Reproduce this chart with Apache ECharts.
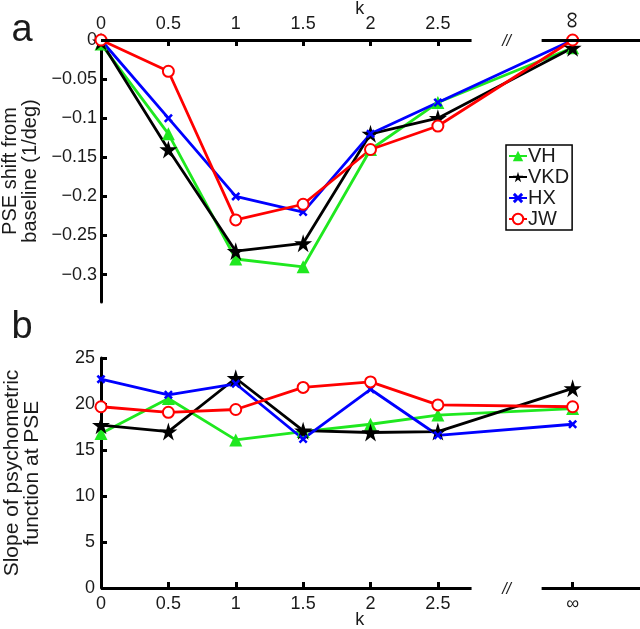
<!DOCTYPE html>
<html>
<head>
<meta charset="utf-8">
<script src="https://cdn.jsdelivr.net/npm/echarts@6/dist/echarts.min.js"></script>
<style>html,body{margin:0;padding:0;background:#fff;}#main{width:640px;height:629px;}</style>
</head>
<body>
<div id="main"></div>
<script>
// k positions; 3.5 stands for k = infinity (drawn after the axis break)
const kPositions = [0, 0.5, 1, 1.5, 2, 2.5, 3.5];
const kTickLabels = ['0', '0.5', '1', '1.5', '2', '2.5', '∞'];
const subjects = ['VH', 'VKD', 'HX', 'JW'];

// panel a: PSE shift from baseline (1/deg)
const pseVH  = [-0.005, -0.12, -0.28, -0.29, -0.14, -0.08, -0.01];
const pseVKD = [-0.002, -0.14, -0.27, -0.26, -0.12, -0.10, -0.01];
const pseHX  = [0, -0.10, -0.20, -0.22, -0.12, -0.08, 0];
const pseJW  = [0, -0.04, -0.23, -0.21, -0.14, -0.11, 0];
const pseTicks = [-0.3, -0.25, -0.2, -0.15, -0.1, -0.05, 0];

// panel b: slope of psychometric function at PSE
const slopeVH  = [16.8, 20.6, 16.1, 17.0, 17.8, 18.8, 19.5];
const slopeVKD = [17.7, 17.0, 22.8, 17.1, 16.9, 17.0, 21.7];
const slopeHX  = [22.7, 21.0, 22.2, 16.2, 21.6, 16.6, 17.8];
const slopeJW  = [19.7, 19.1, 19.4, 21.8, 22.4, 19.9, 19.7];
const slopeTicks = [0, 5, 10, 15, 20, 25];

const FONT = 'Liberation Sans';
const colors = { VH: '#1fe81f', VKD: '#000000', HX: '#0000ff', JW: '#ff0000' };
const xPath = 'path://M0,2 L2,0 L5,3 L8,0 L10,2 L7,5 L10,8 L8,10 L5,7 L2,10 L0,8 L3,5 Z';
const symbols = { VH: 'triangle', VKD: 'path://M50,0 L61,35 L98,35 L68,57 L79,92 L50,70 L21,92 L32,57 L2,35 L39,35 Z', HX: xPath, JW: 'emptyCircle' };
const symSizes = { VH: 13, VKD: 18, HX: 9, JW: 11 };
const pseData = { VH: pseVH, VKD: pseVKD, HX: pseHX, JW: pseJW };
const slopeData = { VH: slopeVH, VKD: slopeVKD, HX: slopeHX, JW: slopeJW };

function zip(xs, ys) { return xs.map((x, i) => [x, ys[i]]); }

const axisSegLine = { color: '#000', width: 3, type: 'solid' };
function breakSegments(y) {
  return [
    [{ coord: [0, y] }, { coord: [2.75, y] }],
    [{ coord: [3.27, y] }, { coord: [4, y] }]
  ];
}

function makeSeries(name, data, gi, withAxis, yBase) {
  const s = {
    name: name, type: 'line', xAxisIndex: gi, yAxisIndex: gi,
    data: zip(kPositions, data), clip: false,
    symbol: symbols[name], symbolSize: symSizes[name],
    lineStyle: { color: colors[name], width: 2.8 },
    itemStyle: { color: colors[name], borderColor: colors[name], borderWidth: name === 'JW' ? 3 : 0 },
    emphasis: { disabled: true }, animation: false
  };
  if (withAxis) {
    s.markLine = { silent: true, symbol: 'none', animation: false, label: { show: false },
      lineStyle: axisSegLine, emphasis: { disabled: true }, data: breakSegments(yBase) };
  }
  return s;
}

const series = [];
subjects.forEach((n, i) => series.push(makeSeries(n, pseData[n], 0, i === 0, 0)));
subjects.forEach((n, i) => series.push(makeSeries(n, slopeData[n], 1, i === 0, 0)));

const labelStyle = { color: '#1a1a1a', fontSize: 18, fontFamily: FONT };
function xAxis(gi, pos, hideInf) {
  return {
    type: 'value', gridIndex: gi, min: 0, max: 4, position: pos,
    axisLine: { show: false },
    axisTick: { show: true, inside: true, length: 6, customValues: kPositions, lineStyle: { color: '#000', width: 3 } },
    axisLabel: Object.assign({ margin: 7, customValues: kPositions,
      formatter: v => (hideInf && v === 3.5) ? '' : kTickLabels[kPositions.indexOf(v)] }, labelStyle),
    splitLine: { show: false }
  };
}

const option = {
  animation: false,
  backgroundColor: '#fff',
  grid: [
    { left: 101, top: 40, width: 539, height: 262, outerBoundsMode: 'none', containLabel: false },
    { left: 101, top: 358, width: 539, height: 230, outerBoundsMode: 'none', containLabel: false }
  ],
  xAxis: [xAxis(0, 'top', true), xAxis(1, 'bottom', false)],
  yAxis: [
    { type: 'value', gridIndex: 0, min: -0.335, max: 0,
      axisLine: { show: true, lineStyle: { color: '#000', width: 3 } },
      axisTick: { show: true, inside: true, length: 6, customValues: pseTicks, lineStyle: { color: '#000', width: 3 } },
      axisLabel: Object.assign({ margin: 4, customValues: pseTicks,
        formatter: v => (v < 0 ? '\u2212' : '') + String(Math.abs(Math.round(v * 100) / 100)) }, labelStyle),
      splitLine: { show: false },
      name: 'PSE shift from\nbaseline (1/deg)', nameLocation: 'middle', nameGap: 51,
      nameTextStyle: { color: '#1a1a1a', fontSize: 20, fontFamily: FONT, lineHeight: 20 }
    },
    { type: 'value', gridIndex: 1, min: 0, max: 25, interval: 5,
      axisLine: { show: true, lineStyle: { color: '#000', width: 3 } },
      axisTick: { show: true, inside: true, length: 6, lineStyle: { color: '#000', width: 3 } },
      axisLabel: Object.assign({ margin: 6 }, labelStyle),
      splitLine: { show: false },
      name: 'Slope of psychometric\nfunction at PSE', nameLocation: 'middle', nameGap: 59,
      nameTextStyle: { color: '#1a1a1a', fontSize: 21, fontFamily: FONT, lineHeight: 20 }
    }
  ],
  legend: {
    data: subjects, orient: 'vertical', left: 506, top: 145,
    backgroundColor: '#fff', borderColor: '#000', borderWidth: 1.5,
    padding: [1, 3, 1, 2], itemGap: 1, itemWidth: 18, itemHeight: 13,
    textStyle: { color: '#1a1a1a', fontSize: 20, fontFamily: FONT, padding: [0, 0, 0, -4] },
    selectedMode: false
  },
  series: series
};

const chart = echarts.init(document.getElementById('main'), null, { renderer: 'canvas' });
chart.setOption(option);

const pTopBreak = chart.convertToPixel({ gridIndex: 0 }, [3.01, 0]);
const pBotBreak = chart.convertToPixel({ gridIndex: 1 }, [3.01, 0]);
const pTopK = chart.convertToPixel({ gridIndex: 0 }, [1.92, 0]);
const pBotK = chart.convertToPixel({ gridIndex: 1 }, [1.92, 0]);
const pTopInf = chart.convertToPixel({ gridIndex: 0 }, [kPositions[6], 0]);
const txt = (x, y, s, size, font) => ({ type: 'text', x: x, y: y,
  style: { text: s, fill: '#1a1a1a', font: (font || '') + ' ' + size + 'px "' + FONT + '"', align: 'center', verticalAlign: 'middle' } });
const infTop = txt(pTopInf[0], pTopInf[1] - 20, kTickLabels[6], 24);
infTop.rotation = Math.PI / 2;
chart.setOption({
  graphic: [
    txt(22, 31, 'a', 38),
    txt(22, 328, 'b', 38),
    txt(pTopK[0], pTopK[1] - 31, 'k', 18),
    txt(pBotK[0], pBotK[1] + 32, 'k', 18),
    txt(pTopBreak[0], pTopBreak[1] + 2, '//', 16, 'italic'),
    txt(pBotBreak[0], pBotBreak[1] + 2, '//', 16, 'italic'),
    infTop
  ]
});
</script>
</body>
</html>
